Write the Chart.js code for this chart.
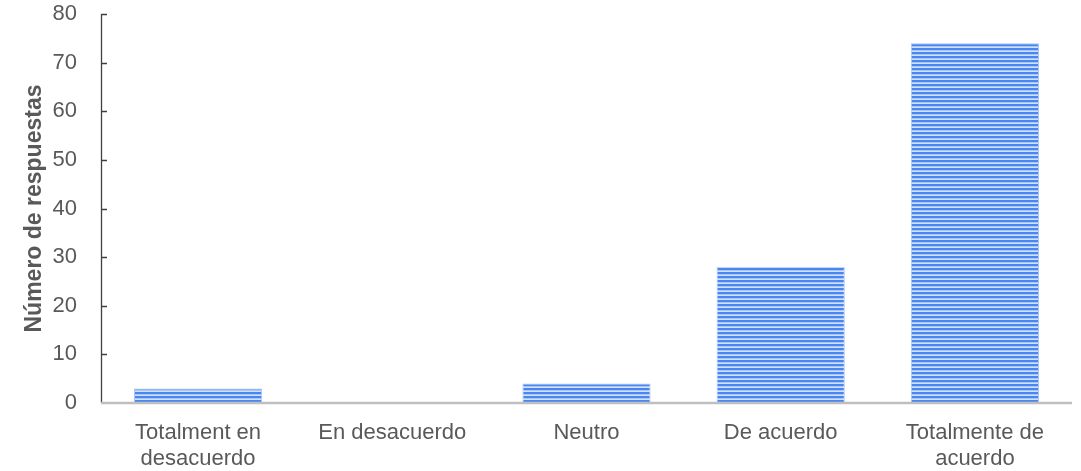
<!DOCTYPE html>
<html><head><meta charset="utf-8">
<script src="https://cdn.jsdelivr.net/npm/chart.js@4"></script>
<style>html,body{margin:0;padding:0;background:#fff}#w{width:1081px;height:471px}</style>
</head><body><div id="w"><canvas id="c"></canvas></div>
<script>
const categories = [["Totalment en","desacuerdo"],"En desacuerdo","Neutro","De acuerdo",["Totalmente de","acuerdo"]];
const values = [3, 0, 4, 28, 74];
const yTicks = [0,10,20,30,40,50,60,70,80];

function stripe(){
  const p = document.createElement('canvas'); p.width = 4; p.height = 4;
  const g = p.getContext('2d');
  g.fillStyle = '#d2e1fb'; g.fillRect(0,0,4,4);
  g.fillStyle = '#4a86f0'; g.fillRect(0,0,4,2);
  g.fillStyle = '#8db2f5'; g.fillRect(0,2,4,0.6);
  return g.createPattern(p,'repeat');
}
const ctx0 = document.getElementById('c').getContext('2d');
const innerTicks = {
  id:'innerTicks',
  afterDraw(chart){
    const y = chart.scales.y, x = chart.scales.x, c = chart.ctx;
    c.save();
    c.strokeStyle = '#404040'; c.lineWidth = 1.3;
    c.beginPath();
    c.moveTo(x.left+0.5, y.top); c.lineTo(x.left+0.5, y.bottom);
    yTicks.forEach(v=>{ if(v===0) return; const py = Math.round(y.getPixelForValue(v))+0.5; c.moveTo(x.left, py); c.lineTo(x.left+6, py); });
    c.stroke();
    c.strokeStyle = '#bfbfbf'; c.lineWidth = 2.5;
    c.beginPath(); c.moveTo(x.left, y.bottom); c.lineTo(x.right, y.bottom); c.stroke();
    c.restore();
  }
};
new Chart(ctx0, {
  type:'bar',
  data:{labels:categories, datasets:[{data:values, backgroundColor:stripe(), borderColor:'#a9c5f7', borderWidth:{left:1,right:1,top:1,bottom:0}, categoryPercentage:1, barPercentage:0.66}]},
  options:{
    responsive:true, maintainAspectRatio:false, animation:false,
    layout:{padding:{top:14, right:9, left:21, bottom:0}},
    plugins:{legend:{display:false}, tooltip:{enabled:false}},
    scales:{
      x:{grid:{display:false, drawTicks:false}, border:{display:false},
        ticks:{color:'#595959', font:{family:'Liberation Sans', size:22, lineHeight:1.18}, padding:17, maxRotation:0, autoSkip:false},
        afterFit(s){ s.height = 68; s.paddingLeft = 0; s.paddingRight = 0; }},
      y:{min:0, max:80, grid:{display:false, drawTicks:false}, border:{display:false},
        afterBuildTicks(s){ s.ticks = yTicks.map(v=>({value:v})); },
        ticks:{color:'#595959', font:{family:'Liberation Sans', size:22}, padding:24},
        title:{display:true, text:'Número de respuestas', color:'#595959', font:{family:'Liberation Sans', size:23, weight:'bold'}, padding:{top:0,bottom:10}},
        afterFit(s){ s.width = 80; s.paddingTop = 0; s.paddingBottom = 0; }}
    }
  },
  plugins:[innerTicks]
});
</script></body></html>
